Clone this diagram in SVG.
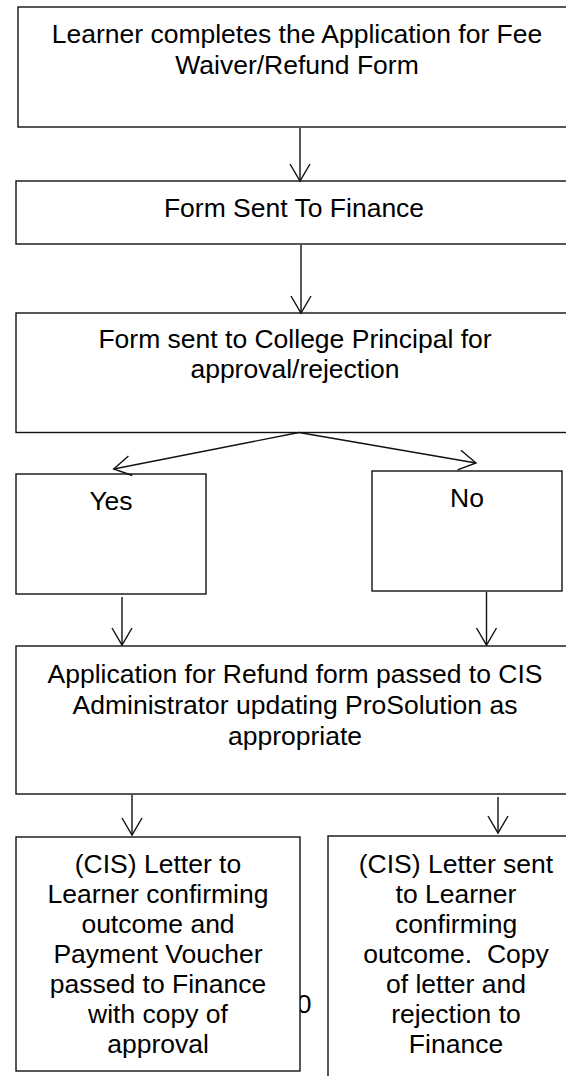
<svg xmlns="http://www.w3.org/2000/svg" width="566" height="1076" viewBox="0 0 566 1076">
<style>
.box{fill:#fff;stroke:#111;stroke-width:1.4}
.t{font-family:"Liberation Sans",Arial,sans-serif;font-size:26.5px;fill:#000;text-anchor:middle}
.c{fill:none;stroke:#111;stroke-width:1.4}
</style>
<defs>
<marker id="ah" markerUnits="userSpaceOnUse" markerWidth="40" markerHeight="40" viewBox="-20 -20 40 40" refX="0" refY="0" orient="auto" overflow="visible">
<path d="M-17,-10 L0,0 L-17,10" fill="none" stroke="#111" stroke-width="1.4"/>
</marker>
</defs>
<rect width="566" height="1076" fill="#fff"/>
<g id="n1">
<rect class="box" x="18" y="7" width="570" height="120"/>
<text class="t" x="297" y="43">Learner completes the Application for Fee</text>
<text class="t" x="297" y="74">Waiver/Refund Form</text>
</g>
<g id="n2">
<rect class="box" x="16" y="181" width="572" height="63"/>
<text class="t" x="294" y="217">Form Sent To Finance</text>
</g>
<g id="n3">
<rect class="box" x="16" y="313" width="572" height="119.5"/>
<text class="t" x="295" y="348">Form sent to College Principal for</text>
<text class="t" x="295" y="378">approval/rejection</text>
</g>
<g id="yes">
<rect class="box" x="16" y="474" width="190" height="120"/>
<text class="t" x="111" y="510">Yes</text>
</g>
<g id="no">
<rect class="box" x="372" y="471" width="190" height="120"/>
<text class="t" x="467" y="507">No</text>
</g>
<g id="n4">
<rect class="box" x="16" y="646" width="572" height="148"/>
<text class="t" x="295" y="683">Application for Refund form passed to CIS</text>
<text class="t" x="295" y="714">Administrator updating ProSolution as</text>
<text class="t" x="295" y="745">appropriate</text>
</g>
<text class="t" x="304" y="1013">0</text>
<g id="n5">
<rect class="box" x="16" y="837" width="284" height="234"/>
<text class="t" x="158" y="873">(CIS) Letter to</text>
<text class="t" x="158" y="903">Learner confirming</text>
<text class="t" x="158" y="933">outcome and</text>
<text class="t" x="158" y="963">Payment Voucher</text>
<text class="t" x="158" y="993">passed to Finance</text>
<text class="t" x="158" y="1023">with copy of</text>
<text class="t" x="158" y="1053">approval</text>
</g>
<g id="n6">
<rect class="box" x="328" y="836" width="260" height="260"/>
<text class="t" x="456" y="873">(CIS) Letter sent</text>
<text class="t" x="456" y="903">to Learner</text>
<text class="t" x="456" y="933">confirming</text>
<text class="t" x="456" y="963" xml:space="preserve" style="white-space:pre">outcome.  Copy</text>
<text class="t" x="456" y="993">of letter and</text>
<text class="t" x="456" y="1023">rejection to</text>
<text class="t" x="456" y="1053">Finance</text>
</g>
<g id="connectors">
<line class="c" x1="300" y1="128" x2="300" y2="181" marker-end="url(#ah)"/>
<line class="c" x1="301" y1="245" x2="301" y2="313" marker-end="url(#ah)"/>
<line class="c" x1="299" y1="432.5" x2="113.7" y2="469" marker-end="url(#ah)"/>
<line class="c" x1="299" y1="432.5" x2="476" y2="463" marker-end="url(#ah)"/>
<line class="c" x1="122" y1="597" x2="122" y2="645" marker-end="url(#ah)"/>
<line class="c" x1="486.5" y1="592" x2="486.5" y2="645" marker-end="url(#ah)"/>
<line class="c" x1="132" y1="795" x2="132" y2="835" marker-end="url(#ah)"/>
<line class="c" x1="498" y1="797" x2="498" y2="833" marker-end="url(#ah)"/>
</g>
</svg>
